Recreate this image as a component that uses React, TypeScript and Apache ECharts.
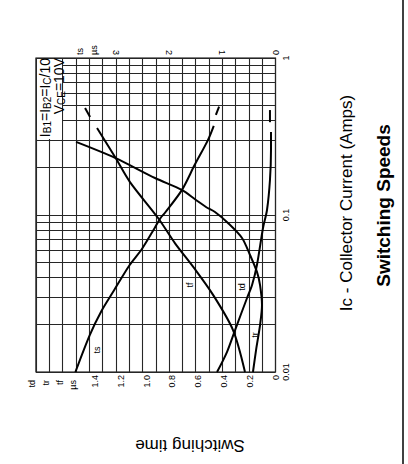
import React, { useEffect, useRef } from "react";
import * as echarts from "echarts";

const FONT = "'Liberation Sans', Arial, Helvetica, sans-serif";

// Ic axis (log) tick labels and minor grid values (A)
const icLabels = ["0.01", "0.1", "1"];
const icMinorLines = [0.02, 0.03, 0.04, 0.05, 0.06, 0.07, 0.08, 0.09, 0.2, 0.3, 0.4, 0.5, 0.6, 0.7, 0.8, 0.9];
// td / tr / tf axis labels (µs)
const leftLabels = ["0", "0.2", "0.4", "0.6", "0.8", "1.0", "1.2", "1.4"];
// ts axis labels (µs)
const tsLabels = ["0", "1", "2", "3"];

// curves: [time µs, Ic A]
const tsCurve: [number, number][] = [
  [3.76, 0.01], [3.49, 0.0172], [3.27, 0.0245], [3.03, 0.0333], [2.74, 0.048],
  [2.51, 0.0607], [2.27, 0.0827], [2.16, 0.0957], [2.08, 0.103], [1.76, 0.144],
  [1.52, 0.208], [1.27, 0.3], [1.16, 0.37],
];
const tsDash: [number, number][] = [[1.12, 0.434], [1.06, 0.49]];

const tfCurve: [number, number][] = [
  [0.237, 0.01], [0.33, 0.0185], [0.485, 0.031], [0.633, 0.046], [0.78, 0.066],
  [0.912, 0.0957], [1.13, 0.162], [1.246, 0.234], [1.386, 0.358],
];
const tfDash: [number, number][] = [[1.44, 0.421], [1.479, 0.48]];

const trCurve: [number, number][] = [
  [0.175, 0.01], [0.151, 0.0138], [0.12, 0.0199], [0.105, 0.0267], [0.12, 0.0358],
  [0.144, 0.0434], [0.198, 0.0556], [0.26, 0.0714], [0.369, 0.089], [0.47, 0.1045],
  [0.54, 0.1125], [0.625, 0.126], [0.724, 0.144], [0.936, 0.172], [1.246, 0.231],
  [1.549, 0.292],
];

const tdCurve: [number, number][] = [
  [0.454, 0.01], [0.377, 0.0134], [0.314, 0.0185], [0.221, 0.0296], [0.182, 0.0358],
  [0.144, 0.048], [0.097, 0.0827], [0.066, 0.1076], [0.043, 0.167], [0.035, 0.26],
  [0.035, 0.338],
];
const tdDash: [number, number][] = [[0.043, 0.39], [0.043, 0.466]];

const GRID = "#262626";
const CURVE = { color: "#000", width: 2 };

function curve(data: [number, number][], xAxisIndex: number, smooth: number | boolean, extra: any = {}) {
  return {
    type: "line",
    xAxisIndex,
    yAxisIndex: 0,
    data,
    smooth,
    symbol: "none",
    silent: true,
    lineStyle: CURVE,
    z: 5,
    ...extra,
  };
}

function rotText(text: string, x: number, y: number, fontSize: number, align: string, rotation = Math.PI / 2, extra: any = {}) {
  return {
    type: "text",
    x,
    y,
    rotation,
    z: 60,
    style: {
      text,
      fill: "#000",
      fontSize,
      fontFamily: FONT,
      align,
      textAlign: align,
      verticalAlign: "middle",
      textVerticalAlign: "middle",
      ...extra,
    },
  };
}

export default function App() {
  const ref = useRef<HTMLDivElement>(null);

  useEffect(() => {
    if (!ref.current) return;
    const chart = echarts.init(ref.current, null, { renderer: "svg" });
    const option: any = {
      animation: false,
      textStyle: { fontFamily: FONT },
      grid: {
        left: 36,
        top: 58,
        width: 239.5,
        height: 314,
        show: true,
        borderColor: "#000",
        borderWidth: 1.2,
      },
      xAxis: [
        {
          type: "value",
          position: "bottom",
          min: 0,
          max: 1.86,
          interval: 0.2,
          inverse: true,
          splitLine: { show: false },
          axisLine: { show: false },
          axisTick: { show: false },
          axisLabel: {
            rotate: 90,
            margin: 3,
            fontSize: 9,
            color: "#000",
            fontFamily: FONT,
            showMaxLabel: false,
            formatter: (_v: number, i: number) => (i < leftLabels.length ? leftLabels[i] : ""),
          },
        },
        {
          type: "value",
          position: "top",
          min: 0,
          max: 4.5,
          interval: 0.25,
          inverse: true,
          splitLine: { show: true, lineStyle: { color: GRID, width: 1.1 } },
          axisLine: { show: false },
          axisTick: { show: false },
          axisLabel: {
            rotate: 90,
            margin: 3,
            fontSize: 9,
            color: "#000",
            fontFamily: FONT,
            formatter: (_v: number, i: number) =>
              i % 4 === 0 && i / 4 < tsLabels.length ? tsLabels[i / 4] : "",
          },
        },
      ],
      yAxis: [
        {
          type: "log",
          logBase: 10,
          min: 0.01,
          max: 1,
          position: "right",
          splitLine: { show: true, lineStyle: { color: GRID, width: 1.1 } },
          axisLine: { show: false },
          axisTick: { show: false },
          axisLabel: {
            rotate: 90,
            margin: 6,
            fontSize: 9,
            color: "#000",
            fontFamily: FONT,
            formatter: (_v: number, i: number) => icLabels[i] ?? "",
          },
        },
      ],
      series: [
        curve(tsCurve, 1, 0.3, {
          markLine: {
            silent: true,
            symbol: ["none", "none"],
            label: { show: false },
            lineStyle: { type: "solid", color: GRID, width: 1.1 },
            emphasis: { disabled: true },
            data: icMinorLines.map((v) => ({ yAxis: v })),
            z: 1,
          },
        }),
        curve(tsDash, 1, false),
        curve(tfCurve, 0, 0.3),
        curve(tfDash, 0, false),
        curve(trCurve, 0, 0.3),
        curve(tdCurve, 0, 0.3),
        curve(tdDash, 0, false),
      ],
      graphic: [
        { type: "rect", z: 50, shape: { x: 37, y: 59, width: 25, height: 80 }, style: { fill: "#fff" } },
        {
          type: "text",
          x: 45,
          y: 58,
          rotation: Math.PI / 2,
          z: 60,
          style: {
            text: "{b|I}{s|B1}{b|=I}{s|B2}{b|=I}{s|C}{b|/10}",
            fill: "#000",
            align: "right",
            textAlign: "right",
            verticalAlign: "middle",
            textVerticalAlign: "middle",
            rich: {
              b: { fontSize: 14, fontFamily: FONT, verticalAlign: "bottom", fill: "#000" },
              s: { fontSize: 10, fontFamily: FONT, verticalAlign: "bottom", fill: "#000" },
            },
          },
        },
        {
          type: "text",
          x: 59,
          y: 58,
          rotation: Math.PI / 2,
          z: 60,
          style: {
            text: "{b|V}{s|CE}{b|=10V}",
            fill: "#000",
            align: "right",
            textAlign: "right",
            verticalAlign: "middle",
            textVerticalAlign: "middle",
            rich: {
              b: { fontSize: 14, fontFamily: FONT, verticalAlign: "bottom", fill: "#000" },
              s: { fontSize: 10, fontFamily: FONT, verticalAlign: "bottom", fill: "#000" },
            },
          },
        },
        // curve labels
        rotText("ts", 97, 350, 9, "center"),
        rotText("tf", 190, 285, 9, "center"),
        rotText("td", 242, 287, 9, "center"),
        rotText("tr", 255, 335, 9, "center"),
        // unit labels, left-time axis
        rotText("µs", 73, 380, 9, "right"),
        rotText("tf", 60, 380, 9, "right"),
        rotText("tr", 46, 380, 9, "right"),
        rotText("td", 32, 380, 9, "right"),
        // unit labels, ts axis
        rotText("µs", 94, 55, 9, "left"),
        rotText("ts", 80, 55, 9, "left"),
        // axis titles
        rotText("Ic - Collector Current (Amps)", 346.5, 203, 17, "center"),
        rotText("Switching Speeds", 383.5, 205.5, 19, "center", Math.PI / 2, { fontWeight: "bold" }),
        rotText("Switching time", 190, 445, 17, "center", Math.PI),
        // frame line at right
        {
          type: "line",
          z: 60,
          shape: { x1: 403, y1: 0, x2: 403, y2: 464 },
          style: { stroke: "#000", lineWidth: 1.5 },
        },
      ],
    };
    chart.setOption(option);
    return () => chart.dispose();
  }, []);

  return (
    <div
      ref={ref}
      style={{ position: "fixed", left: 0, top: 0, width: 408, height: 464, background: "#fff" }}
    />
  );
}
